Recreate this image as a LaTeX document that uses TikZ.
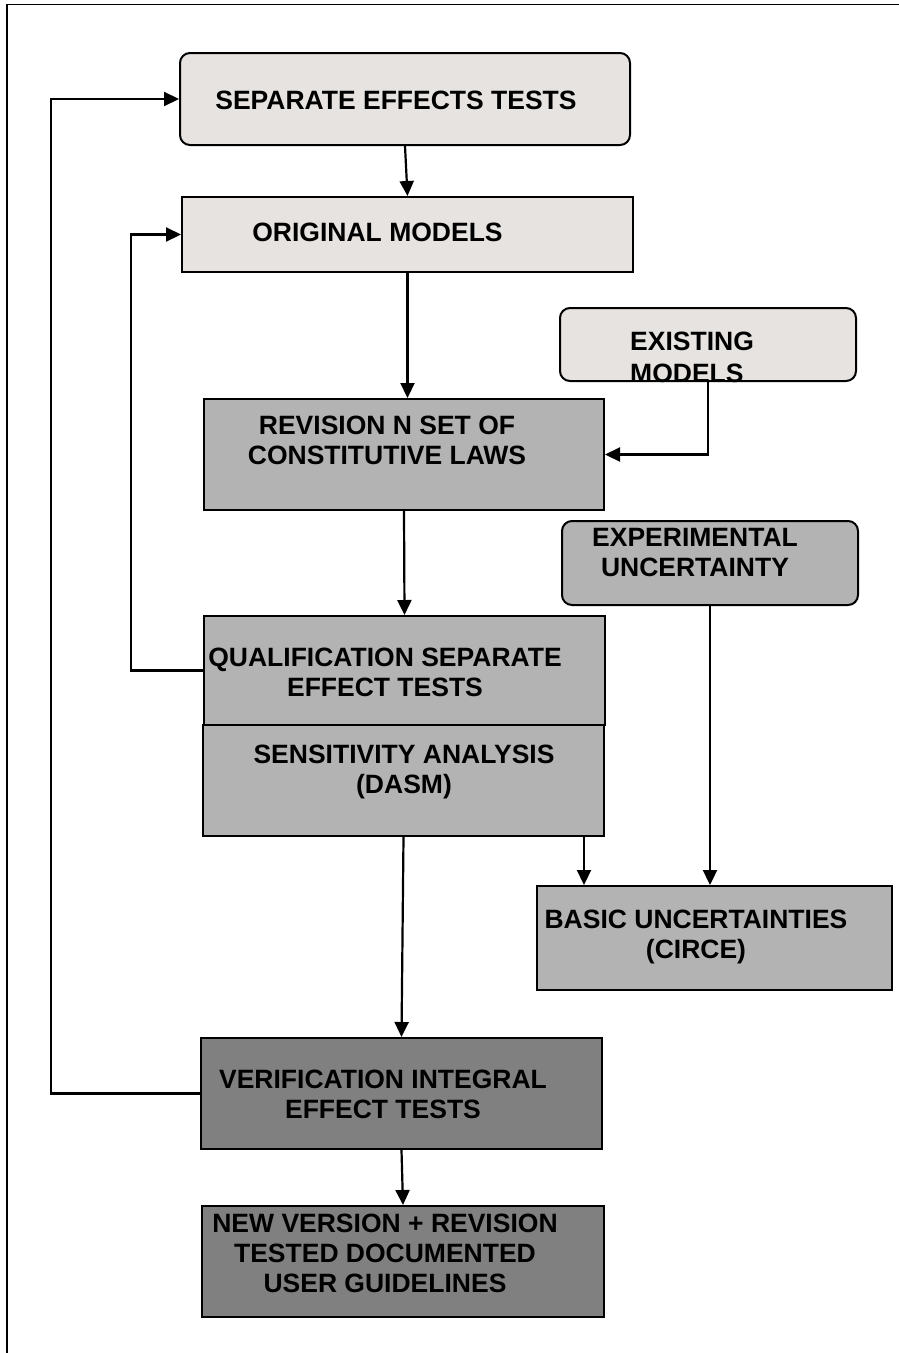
\documentclass[tikz,border=0pt]{standalone}
\usepackage{fontspec}
\setmainfont{Liberation Sans}
\usetikzlibrary{arrows.meta,positioning}
\definecolor{lightc}{RGB}{230,227,224}
\definecolor{midc}{RGB}{179,179,179}
\definecolor{darkc}{RGB}{128,128,128}

\begin{document}
\begin{tikzpicture}[x=1pt, y=-1pt, every node/.style={font=\fontsize{26.5}{30}\selectfont\bfseries, inner sep=0pt}, box/.style={draw, line width=2pt, minimum width=401pt, minimum height=111pt}, txt/.style={align=center, anchor=base}, flow/.style={->, line width=2.2pt}, >={Triangle[length=15pt, width=14pt]}]
  \useasboundingbox (0,0) rectangle (899,1353);
  \clip (0,0) rectangle (899,1353);
  \draw[line width=1.6pt] (7,1370) -- (7,4.5) -- (920,4.5);
  % boxes
  \node[box, fill=lightc, rounded corners=10pt, minimum width=450pt, minimum height=92pt] (set) at (405,99) {};
  \node[box, fill=lightc, minimum width=451pt, minimum height=75pt] (om) at (407.5,234.5) {};
  \node[box, fill=lightc, rounded corners=10pt, minimum width=296pt, minimum height=73pt] (em) at (708,344.5) {};
  \node[box, fill=midc, minimum width=400pt] (rev) at (404,454.5) {};
  \node[box, fill=midc, rounded corners=10pt, minimum width=296pt, minimum height=84pt] (exp) at (710,563) {};
  \node[box, fill=midc, minimum height=109pt] (qual) at (404.5,670.5) {};
  \node[box, fill=midc] (sens) at (403.5,780.5) {};
  \node[box, fill=midc, minimum width=355pt, minimum height=104pt] (basic) at (714.5,938) {};
  \node[box, fill=darkc] (ver) at (401.5,1093.5) {};
  \node[box, fill=darkc, minimum width=402pt] (new) at (403,1261.5) {};
  % texts (base = last line)
  \node[txt] (sett) at (396,109) {SEPARATE EFFECTS TESTS};
  \node[txt] (omt) at (377.5,241) {ORIGINAL MODELS};
  \node[txt, align=left, anchor=base west] (emt) at (630,382) {EXISTING\\[2pt]MODELS};
  \node[txt] (revt) at (387,464) {REVISION N SET OF\\CONSTITUTIVE LAWS};
  \node[txt] (expt) at (695,576) {EXPERIMENTAL\\UNCERTAINTY};
  \node[txt] (qualt) at (385,696) {QUALIFICATION SEPARATE\\EFFECT TESTS};
  \node[txt] (senst) at (404,793) {SENSITIVITY ANALYSIS\\(DASM)};
  \node[txt] (basict) at (696,958) {BASIC UNCERTAINTIES\\(CIRCE)};
  \node[txt] (vert) at (383,1118) {VERIFICATION INTEGRAL\\EFFECT TESTS};
  \node[txt] (newt) at (385,1292) {NEW VERSION + REVISION\\TESTED DOCUMENTED\\USER GUIDELINES};
  % connectors
  \draw[flow] (set.south) -- (om.north);
  \draw[flow] (om.south) -- (om.south |- rev.north);
  \draw[flow] (em.south) |- (rev.east);
  \draw[flow] (rev.south) -- (qual.north);
  \draw[flow] (qual.west) -- ++(-72,0) |- (om.west);
  \draw[flow] (sens.south) -- (ver.north);
  \draw[flow] ([xshift=-21pt]sens.south east) -- ([xshift=-21pt]sens.south east |- basic.north);
  \draw[flow] (exp.south) -- (exp.south |- basic.north);
  \draw[flow] (ver.west) -- ++(-149,0) |- (set.west);
  \draw[flow] (ver.south) -- (new.north);
\end{tikzpicture}
\end{document}
